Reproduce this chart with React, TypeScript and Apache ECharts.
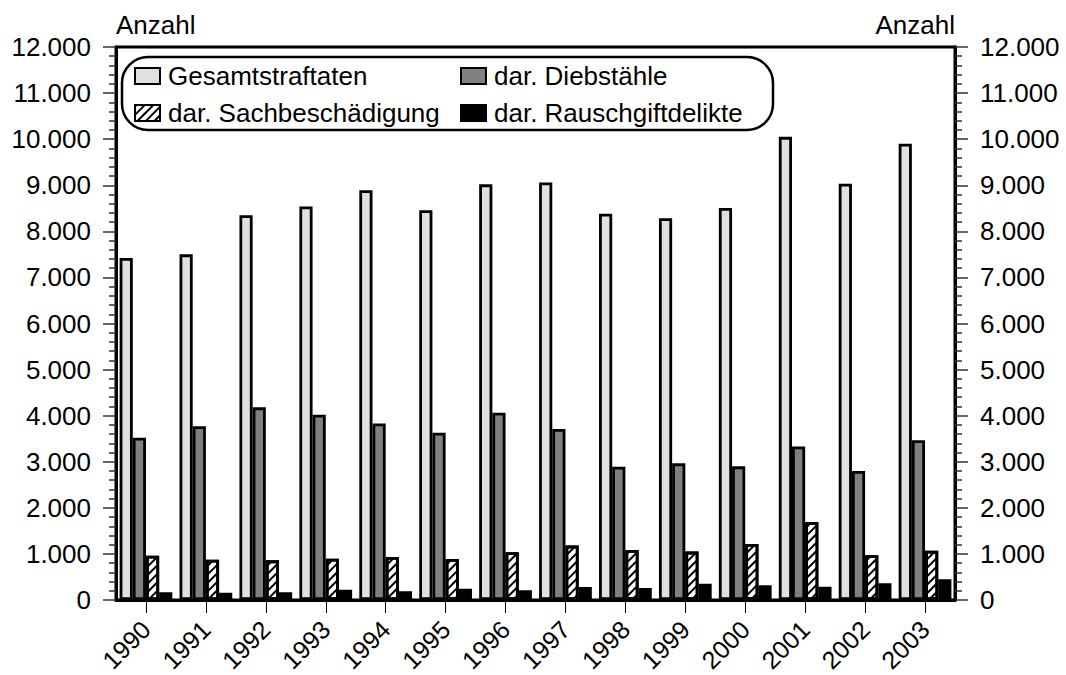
import React, { useEffect, useRef } from "react";
import * as echarts from "echarts";

const years = ["1990","1991","1992","1993","1994","1995","1996","1997","1998","1999","2000","2001","2002","2003"];
const gesamt = [7420, 7500, 8350, 8540, 8890, 8460, 9020, 9060, 8380, 8285, 8505, 10050, 9035, 9900];
const diebstaehle = [3520, 3770, 4180, 4020, 3830, 3630, 4065, 3710, 2890, 2965, 2900, 3330, 2800, 3465];
const sachbesch = [960, 875, 860, 897, 933, 890, 1035, 1180, 1085, 1050, 1215, 1693, 970, 1070];
const rausch = [167, 160, 167, 225, 188, 245, 210, 282, 260, 354, 318, 289, 362, 449];

const seriesNames = ["Gesamtstraftaten", "dar. Diebstähle", "dar. Sachbeschädigung", "dar. Rauschgiftdelikte"];

const fmt = (v: number) => (v === 0 ? "0" : String(v).replace(/\B(?=(\d{3})+(?!\d))/g, "."));

const FONT = "Liberation Sans, Arial, sans-serif";
const FS = 26;

export default function App() {
  const ref = useRef<HTMLDivElement>(null);
  useEffect(() => {
    if (!ref.current) return;
    const chart = echarts.init(ref.current, undefined, { renderer: "svg" });
    const border = { borderColor: "#000", borderWidth: 2.8 };
    const yBase = (pos: "left" | "right") => ({
      type: "value",
      position: pos,
      min: 0,
      max: 12000,
      interval: 1000,
      name: "Anzahl",
      nameLocation: "end",
      nameGap: 9,
      nameTextStyle: { fontFamily: FONT, fontSize: FS, color: "#000", align: pos === "left" ? "left" : "right" },
      axisLine: { show: true, lineStyle: { color: "#000", width: 3 } },
      axisTick: { show: true, length: 13, lineStyle: { color: "#333", width: 1.5 } },
      minorTick: { show: true, splitNumber: 5, length: 7, lineStyle: { color: "#333", width: 1.5 } },
      splitLine: { show: false },
      axisLabel: { fontFamily: FONT, fontSize: FS, color: "#000", margin: 25, formatter: (v: number) => fmt(v) },
    });
    const legendBase = {
      orient: "vertical",
      top: 58,
      itemWidth: 25,
      itemHeight: 16,
      itemGap: 11,
      icon: "rect",
      textStyle: { fontFamily: FONT, fontSize: FS, color: "#000", padding: [0, 0, 0, 3] },
      selectedMode: false,
    };
    chart.setOption({
      animation: false,
      backgroundColor: "#fff",
      grid: { left: 116, right: 111, top: 47, bottom: 75, outerBoundsMode: "none", containLabel: false, show: true, borderColor: "#000", borderWidth: 3, backgroundColor: "transparent" },
      legend: [
        { ...legendBase, data: [seriesNames[0], seriesNames[2]], left: 129 },
        { ...legendBase, data: [seriesNames[1], seriesNames[3]], left: 455 },
      ],
      graphic: [
        {
          type: "rect",
          shape: { x: 122, y: 57, width: 651, height: 73, r: 26 },
          style: { fill: "none", stroke: "#000", lineWidth: 2.5 },
          z: 100,
        },
      ],
      xAxis: {
        type: "category",
        data: years,
        boundaryGap: true,
        axisLine: { show: true, lineStyle: { color: "#000", width: 3 } },
        axisTick: { show: true, alignWithLabel: true, length: 13, lineStyle: { color: "#000", width: 1 } },
        axisLabel: { fontFamily: FONT, fontSize: 25, color: "#000", rotate: 45, margin: 25, interval: 0 },
        splitLine: { show: false },
      },
      yAxis: [yBase("left"), yBase("right")],
      series: [
        { name: seriesNames[0], type: "bar", data: gesamt, barGap: "0%", barCategoryGap: "12%", itemStyle: { color: "#e0e0e0", ...border } },
        { name: seriesNames[1], type: "bar", data: diebstaehle, itemStyle: { color: "#808080", ...border } },
        {
          name: seriesNames[2],
          type: "bar",
          data: sachbesch,
          itemStyle: {
            color: "#fff",
            ...border,
            decal: { symbol: "rect", symbolSize: 1, color: "#000", backgroundColor: "#fff", dashArrayX: [1, 0], dashArrayY: [1.2, 4], rotation: -Math.PI / 4 },
          },
        },
        { name: seriesNames[3], type: "bar", data: rausch, itemStyle: { color: "#000", ...border } },
      ],
    });
    return () => chart.dispose();
  }, []);
  return <div ref={ref} style={{ position: "absolute", left: 0, top: 0, width: 1066, height: 675 }} />;
}
